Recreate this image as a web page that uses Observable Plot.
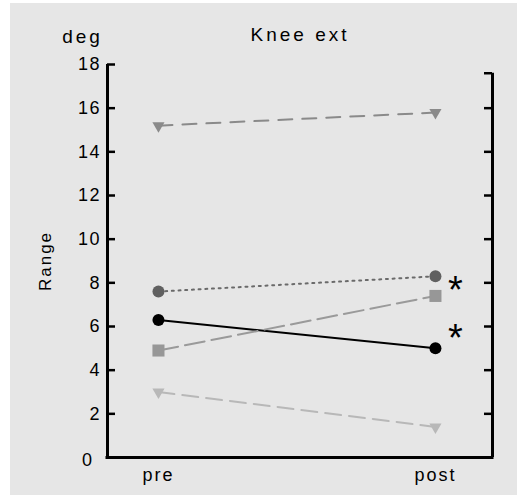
<!DOCTYPE html>
<html><head><meta charset="utf-8">
<script src="https://cdn.jsdelivr.net/npm/d3@7"></script>
<script src="https://cdn.jsdelivr.net/npm/@observablehq/plot@0.6"></script>
<style>
body{margin:0;background:#fff;}
#chart{position:absolute;left:10px;top:3px;}
svg text{letter-spacing:1.5px;}
svg .ttl text{letter-spacing:3px;}
svg .ylab text{letter-spacing:2px;}
svg .xlab text{letter-spacing:2px;}
svg .sig text{letter-spacing:0;}
</style></head><body><div id="chart"></div>
<script>
const timepoints = ["pre", "post"];
const seriesNames = ["S1", "S2", "S3", "S4", "S5"];
const preValues = [7.6, 6.3, 4.9, 15.2, 3.0];
const postValues = [8.3, 5.0, 7.4, 15.8, 1.4];
const seriesSymbol = ["circle", "circle", "square", "triangle", "triangle"];
const seriesRotate = [0, 0, 0, 180, 180];
const seriesFill = ["#606060", "#000000", "#979797", "#8a8a8a", "#b8b8b8"];
const seriesStroke = ["#6a6a6a", "#000000", "#9a9a9a", "#8a8a8a", "#b8b8b8"];
const seriesDash = ["2,4.7", "none", "20,7", "14,10", "16,8"];
const seriesR = [6, 6, 6.8, 4.5, 4.5];
const yTicks = [0, 2, 4, 6, 8, 10, 12, 14, 16, 18];
const sigY = [7.9, 5.7];
const sigText = ["*", "*"];

const xDomain = [-0.184, 1.206];
const rows = [];
seriesNames.forEach((s, i) => {
  rows.push({s, i, t: 0, v: preValues[i]});
  rows.push({s, i, t: 1, v: postValues[i]});
});
const sig = sigY.map((y, k) => ({y, text: sigText[k]}));

const marks = [];
seriesNames.forEach((s, i) => {
  marks.push(Plot.line(rows.filter(d => d.i === i), {
    x: "t", y: "v", stroke: seriesStroke[i], strokeWidth: 2,
    strokeDasharray: seriesDash[i]
  }));
});
seriesNames.forEach((s, i) => {
  marks.push(Plot.dot(rows.filter(d => d.i === i), {
    x: "t", y: "v", symbol: seriesSymbol[i], r: seriesR[i], fill: seriesFill[i],
    rotate: seriesRotate[i], stroke: "none"
  }));
});
// frame lines
marks.push(Plot.ruleY([0], {stroke: "black", strokeWidth: 3, insetLeft: -1.5, insetRight: -1.5}));
marks.push(Plot.ruleX([xDomain[0]], {y1: 0, y2: 18, stroke: "black", strokeWidth: 3}));
marks.push(Plot.ruleX([xDomain[1]], {y1: 0, y2: 17.6, stroke: "black", strokeWidth: 3}));
// ticks
marks.push(Plot.ruleY(yTicks, {stroke: "black", strokeWidth: 2.5, insetRight: 385 - 8}));
marks.push(Plot.ruleY(yTicks.filter(v => v > 0 && v < 18).concat([17.6]), {stroke: "black", strokeWidth: 2.5, insetLeft: 385 - 8}));
// tick labels
marks.push(Plot.text(yTicks.filter(v => v > 0), {y: d => d, text: d => String(d), frameAnchor: "left", textAnchor: "end", lineAnchor: "middle", dx: -6.5, fontSize: 18}));
marks.push(Plot.text(yTicks.filter(v => v === 0), {y: d => d, text: d => String(d), frameAnchor: "left", textAnchor: "end", lineAnchor: "middle", dx: -14, dy: 3, fontSize: 18}));
marks.push(Plot.text(timepoints, {x: (d, k) => k, text: d => d, frameAnchor: "bottom", textAnchor: "middle", lineAnchor: "middle", dy: 18, fontSize: 18, className: "xlab"}));
// asterisks
marks.push(Plot.text(sig, {x: () => 1, y: "y", text: "text", dx: 20, dy: 6, fontSize: 38, className: "sig"}));
// titles
marks.push(Plot.text(["Knee ext"], {frameAnchor: "top", textAnchor: "middle", lineAnchor: "middle", dy: -30, fontSize: 19, className: "ttl"}));
marks.push(Plot.text(["deg"], {frameAnchor: "top-left", textAnchor: "middle", lineAnchor: "middle", dx: -25, dy: -28, fontSize: 19, className: "ttl"}));
marks.push(Plot.text(["Range"], {frameAnchor: "left", textAnchor: "middle", lineAnchor: "middle", dx: -62, rotate: -90, fontSize: 17, className: "ylab"}));

const chart = Plot.plot({
  width: 507, height: 492,
  marginLeft: 97, marginRight: 25, marginTop: 61, marginBottom: 38,
  x: {type: "linear", domain: xDomain, axis: null},
  y: {type: "linear", domain: [0, 18], axis: null},
  style: {background: "#e6e6e6", fontFamily: "'Liberation Sans', Arial, sans-serif", fontSize: "16px", color: "black"},
  marks
});
document.getElementById("chart").append(chart);
</script></body></html>
